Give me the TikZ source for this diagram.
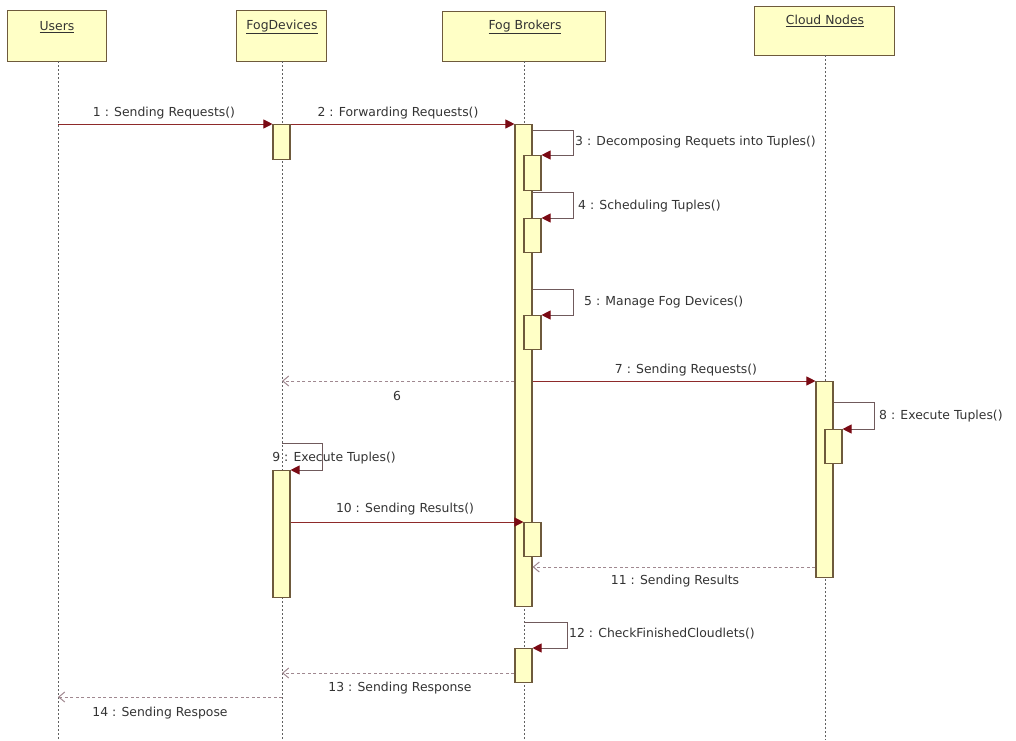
\documentclass[tikz,border=0pt]{standalone}
\usepackage{fontspec}
\setmainfont{DejaVu Sans}
\usetikzlibrary{arrows.meta}
\definecolor{boxfill}{HTML}{FFFFC6}
\definecolor{boxline}{HTML}{6E5A3C}
\definecolor{msg}{HTML}{8E2A2A}
\definecolor{tip}{HTML}{7A0A14}
\definecolor{loopc}{HTML}{705A5C}
\definecolor{retc}{HTML}{A08890}
\definecolor{lifec}{HTML}{606060}
\begin{document}
\begin{tikzpicture}[x=1pt,y=-1pt,
  font=\fontsize{12.4}{14}\selectfont,
  head/.style={draw=boxline,fill=boxfill,line width=1.3pt,anchor=north west,inner sep=0pt,align=center},
  headtxt/.style={font=\fontsize{12.4}{14}\selectfont,text=black!80},
  act/.style={draw=boxline,fill=boxfill,line width=1.1pt,minimum width=17pt,inner sep=0pt,anchor=north},
  life/.style={lifec,line width=1pt,dash pattern=on 2pt off 2pt},
  call/.style={msg,line width=1pt,-{Triangle[length=9pt,width=9pt,fill=tip,color=tip]}},
  selfc/.style={loopc,line width=1pt,-{Triangle[length=9pt,width=9pt,fill=tip,color=tip]}},
  ret/.style={retc,line width=1pt,dash pattern=on 3pt off 2.5pt,-{Straight Barb[length=6pt,width=10pt,line width=1pt]}},
  lbl/.style={text=black!80,inner sep=0pt}
]
\useasboundingbox (0,0) rectangle (1016,740);
% header boxes
\node[head,minimum width=99pt,minimum height=51pt] (hU) at (7,10) {};
\node[head,minimum width=90pt,minimum height=51pt] (hF) at (236,10) {};
\node[head,minimum width=163pt,minimum height=50pt] (hB) at (442,11) {};
\node[head,minimum width=140pt,minimum height=49pt] (hC) at (754,6) {};
\node[headtxt] (tU) at (57,27) {\underline{Users}};
\node[headtxt] (tF) at (282,27) {\underline{FogDevices}};
\node[headtxt] (tB) at (525,27) {\underline{Fog Brokers}};
\node[headtxt] (tC) at (825,21) {\underline{Cloud Nodes}};
% lifelines
\coordinate (lU) at (58,740);
\coordinate (lF) at (282,740);
\coordinate (lB) at (524,740);
\coordinate (lC) at (825,740);
\draw[life] (58,61) -- (lU);
\draw[life] (282,61) -- (lF);
\draw[life] (524,61) -- (lB);
\draw[life] (825,55) -- (lC);
% activation boxes
\node[act,minimum height=35pt] (aF1) at (281.5,124) {};
\node[act,minimum height=127pt] (aF2) at (281.5,470) {};
\node[act,minimum height=482pt] (aB) at (523.5,124) {};
\node[act,minimum height=35pt] (aB3) at (532.5,155) {};
\node[act,minimum height=34pt] (aB4) at (532.5,218) {};
\node[act,minimum height=34pt] (aB5) at (532.5,315) {};
\node[act,minimum height=34pt] (aB10) at (532.5,522) {};
\node[act,minimum height=34pt] (aB12) at (523.5,648) {};
\node[act,minimum height=196pt] (aC) at (824.5,381) {};
\node[act,minimum height=34pt] (aC8) at (833.5,429) {};
% coordinates
\coordinate (uS1) at (58,124);
\coordinate (f14) at (282,697);
\coordinate (u14) at (58,697);
\coordinate (f6) at (282,381);
\coordinate (f9) at (282,443);
\coordinate (f13) at (282,673);
\coordinate (b12) at (524,622);
% message 1,2
\draw[call] (uS1) -- (aF1.north west);
\node[lbl] (m1) at (164,113) {1 : Sending Requests()};
\draw[call] (aF1.north east) -- (aB.north west);
\node[lbl] (m2) at (398,113) {2 : Forwarding Requests()};
% self calls 3,4,5
\draw[selfc] (aB.east |- 0,130) -- (573,130) -- (573,155) -- (aB3.north east);
\node[lbl,anchor=west] (m3) at (575,142) {3 : Decomposing Requets into Tuples()};
\draw[selfc] (aB.east |- 0,192) -- (573,192) -- (573,218) -- (aB4.north east);
\node[lbl,anchor=west] (m4) at (578,206) {4 : Scheduling Tuples()};
\draw[selfc] (aB.east |- 0,289) -- (573,289) -- (573,315) -- (aB5.north east);
\node[lbl,anchor=west] (m5) at (584,302) {5 : Manage Fog Devices()};
% 6 and 7
\draw[ret] (aB.west |- 0,381) -- (f6);
\node[lbl] (m6) at (397,396) {6};
\draw[call] (aB.east |- 0,381) -- (aC.north west);
\node[lbl] (m7) at (686,370) {7 : Sending Requests()};
% 8
\draw[selfc] (aC.east |- 0,402) -- (874,402) -- (874,429) -- (aC8.north east);
\node[lbl,anchor=west] (m8) at (879,416) {8 : Execute Tuples()};
% 9
\draw[selfc] (f9) -- (322,443) -- (322,470) -- (aF2.north east);
\node[lbl] (m9) at (334,458) {9 : Execute Tuples()};
% 10
\draw[call] (aF2.east |- 0,522) -- (aB10.north west);
\node[lbl] (m10) at (405,509) {10 : Sending Results()};
% 11
\draw[ret] (aC.west |- 0,567) -- (aB.east |- 0,567);
\node[lbl] (m11) at (675,581) {11 : Sending Results};
% 12
\draw[selfc] (b12) -- (567,622) -- (567,648) -- (aB12.north east);
\node[lbl,anchor=west] (m12) at (569,634) {12 : CheckFinishedCloudlets()};
% 13, 14
\draw[ret] (aB12.west |- 0,673) -- (f13);
\node[lbl] (m13) at (400,688) {13 : Sending Response};
\draw[ret] (f14) -- (u14);
\node[lbl] (m14) at (160,713) {14 : Sending Respose};
\end{tikzpicture}
\end{document}
